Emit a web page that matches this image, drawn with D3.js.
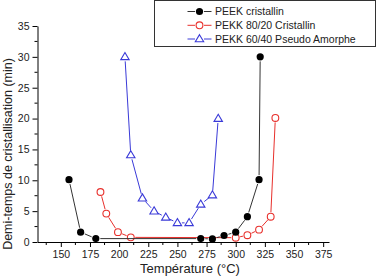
<!DOCTYPE html>
<html><head><meta charset="utf-8">
<script src="https://cdn.jsdelivr.net/npm/d3@7/dist/d3.min.js"></script>
<style>body{margin:0;background:#fff;}svg{display:block;font-family:"Liberation Sans",Arial,sans-serif;}</style>
</head><body>
<svg id="c" width="391" height="277"></svg>
<script>
const xTicks = [150,175,200,225,250,275,300,325,350,375];
const yTicks = [0,5,10,15,20,25,30,35];
const seriesNames = ["PEEK cristallin","PEKK 80/20 Cristallin","PEKK 60/40 Pseudo Amorphe"];
const peekT = [157,167,180,270,280,290,300,310,320,321];
const peekY = [10.1,1.6,0.55,0.55,0.5,1.05,1.6,4.1,10.1,30];
const pekk80T = [184,189,199,210,300,310,320,330,334];
const pekk80Y = [8.1,4.6,1.6,0.75,0.7,1.1,2.0,4.1,20.1];
const pekk60T = [205,210,220,230,240,250,260,270,280,285];
const pekk60Y = [30,14.1,7.1,5.0,4.0,3.1,3.1,6.1,7.6,20];
const xTitle = "Température (°C)";
const yTitle = "Demi-temps de cristallisation (min)";

const svg = d3.select("#c");
const x = d3.scaleLinear().domain([130,380]).range([37.5,329]);
const y = d3.scaleLinear().domain([0,35]).range([242,26]);

// axes
const xMinor = d3.range(137.5,380,12.5).filter(v=>!xTicks.includes(v));
const yMinor = d3.range(2.5,35,5);
const gx = svg.append("g").attr("transform","translate(0,242)");
gx.call(d3.axisBottom(x).tickValues(xTicks).tickSize(5).tickSizeOuter(0).tickPadding(4));
gx.append("g").selectAll("line").data(xMinor).join("line")
  .attr("x1",d=>x(d)).attr("x2",d=>x(d)).attr("y1",0).attr("y2",3).attr("stroke","#000");
const gy = svg.append("g").attr("transform","translate(37.5,0)");
gy.call(d3.axisLeft(y).tickValues(yTicks).tickSize(5).tickSizeOuter(0).tickPadding(3));
gy.append("g").selectAll("line").data(yMinor).join("line")
  .attr("y1",d=>y(d)).attr("y2",d=>y(d)).attr("x1",0).attr("x2",-3).attr("stroke","#000");
svg.selectAll(".domain").attr("stroke","#000");
svg.selectAll(".tick line").attr("stroke","#000");
svg.selectAll(".tick text").attr("font-size","10.5px").attr("fill","#222").attr("font-family","Liberation Sans, Arial, sans-serif");

// titles
svg.append("text").attr("x",190).attr("y",273).attr("text-anchor","middle")
  .attr("font-size","13px").attr("fill","#222").text(xTitle);
svg.append("text").attr("transform","translate(12,154) rotate(-90)").attr("text-anchor","middle")
  .attr("font-size","12.5px").attr("fill","#222").text(yTitle);

// series
const series = [
  {T:peekT,Y:peekY,color:"#000",lineColor:"#333",type:"circleFilled"},
  {T:pekk80T,Y:pekk80Y,color:"#e8302c",lineColor:"#e8302c",type:"circleOpen"},
  {T:pekk60T,Y:pekk60Y,color:"#3a3ad8",lineColor:"#3a3ad8",type:"triangle"}
];
const gap = 4.5;
function drawMarker(g, cx, cy, s){
  if(s.type==="circleFilled"){
    g.append("circle").attr("cx",cx).attr("cy",cy).attr("r",3.6).attr("fill",s.color);
  } else if(s.type==="circleOpen"){
    g.append("circle").attr("cx",cx).attr("cy",cy).attr("r",3.4).attr("fill","none").attr("stroke",s.color).attr("stroke-width",1.1);
  } else {
    const h=3.8;
    g.append("path").attr("d",`M${cx},${cy-h-0.5}L${cx+h+0.4},${cy+h-1}L${cx-h-0.4},${cy+h-1}Z`)
      .attr("fill","none").attr("stroke",s.color).attr("stroke-width",1.1);
  }
}
[1,2,0].forEach(i=>{
  const s=series[i];
  const g=svg.append("g");
  const pts=s.T.map((t,k)=>[x(t),y(s.Y[k])]);
  for(let k=0;k<pts.length-1;k++){
    const [x1,y1]=pts[k],[x2,y2]=pts[k+1];
    const dx=x2-x1,dy=y2-y1,L=Math.hypot(dx,dy);
    if(L<=2*gap) continue;
    const ux=dx/L,uy=dy/L;
    g.append("line").attr("x1",x1+ux*gap).attr("y1",y1+uy*gap).attr("x2",x2-ux*gap).attr("y2",y2-uy*gap)
      .attr("stroke",s.lineColor).attr("stroke-width",1);
  }
  pts.forEach(p=>drawMarker(g,p[0],p[1],s));
});

// legend
const lg = svg.append("g");
lg.append("rect").attr("x",154.5).attr("y",0.5).attr("width",221).attr("height",46)
  .attr("fill","#fff").attr("stroke","#333").attr("stroke-width",1);
const ly=[11.5,25.3,39];
series.forEach((s,i)=>{
  lg.append("line").attr("x1",187.5).attr("x2",195).attr("y1",ly[i]).attr("y2",ly[i]).attr("stroke",s.lineColor);
  lg.append("line").attr("x1",204).attr("x2",211.5).attr("y1",ly[i]).attr("y2",ly[i]).attr("stroke",s.lineColor);
  drawMarker(lg,199.5,ly[i],s);
  lg.append("text").attr("x",215).attr("y",ly[i]+3.8).attr("font-size","10.5px").attr("fill","#222").text(seriesNames[i]);
});
</script>
</body></html>
